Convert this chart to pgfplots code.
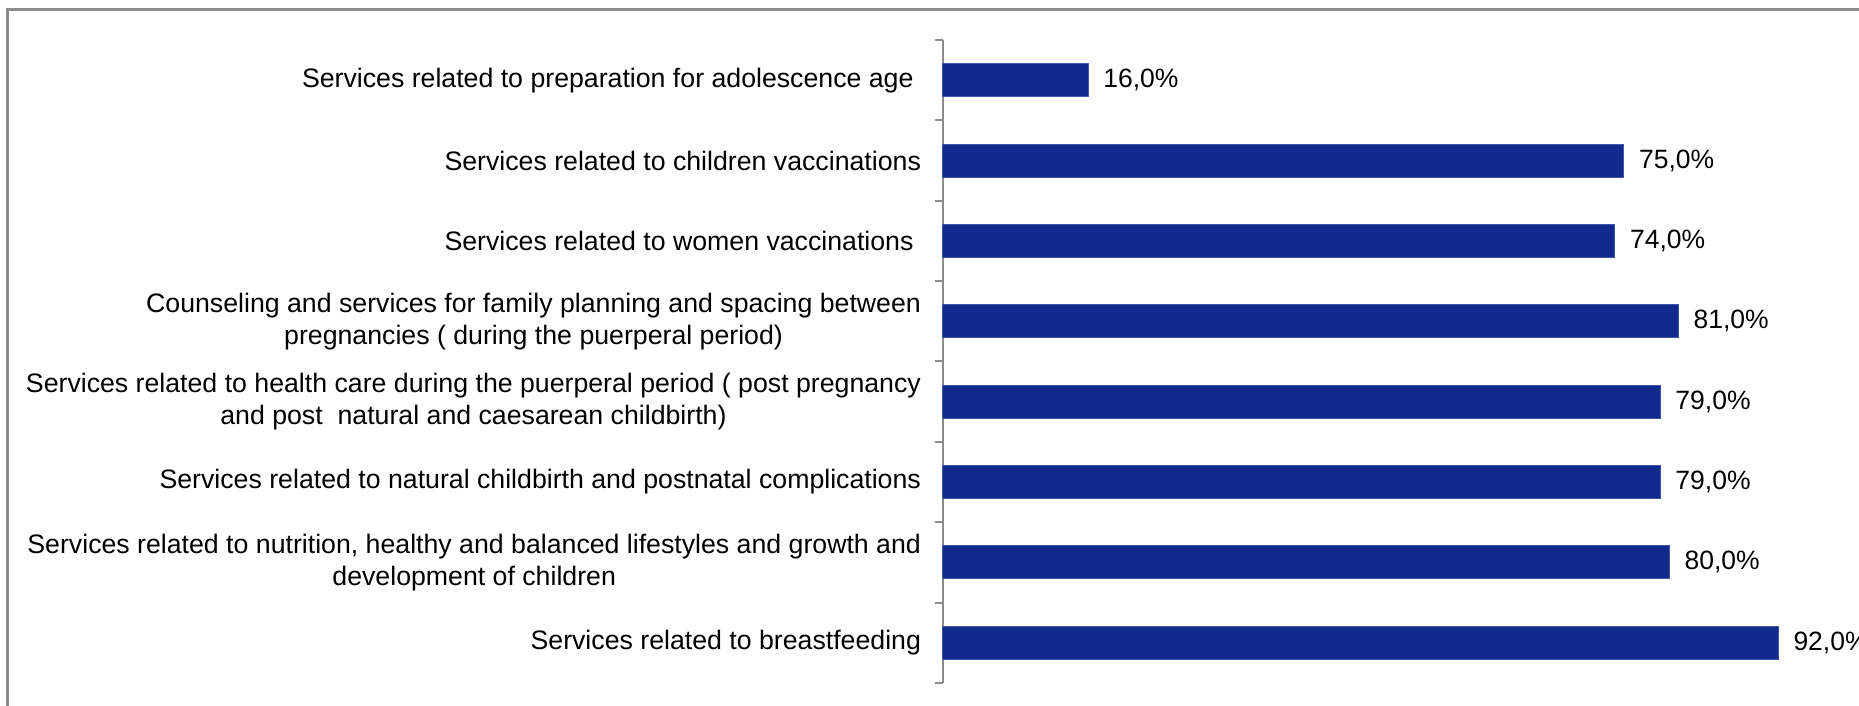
\documentclass[border=0pt]{standalone}
\usepackage{pgfplots}
\pgfplotsset{compat=1.18}
\usepackage{fontspec}
\setmainfont{Liberation Sans}
\definecolor{barblue}{RGB}{16,43,140}
\definecolor{baredge}{RGB}{60,85,170}
\definecolor{axgray}{RGB}{140,140,140}
\begin{document}
\begin{tikzpicture}
\begin{axis}[
  scale only axis,
  width=454bp, height=321.5bp,
  xbar, bar width=16.5bp,
  xmin=0, xmax=100,
  ymin=-0.5, ymax=7.5,
  axis x line=none,
  axis y line*=left,
  y axis line style={axgray, line width=1bp, -},
  ytick={0,...,7},
  major tick length=0pt,
  minor ytick={-0.5,0.5,...,7.5},
  minor tick length=4bp,
  tick align=outside,
  minor tick style={axgray, line width=1bp},
  yticklabels={
    {Services related to breastfeeding},
    {Services related to nutrition, healthy and balanced lifestyles and growth and\\development of children},
    {Services related to natural childbirth and postnatal complications},
    {Services related to health care during the puerperal period ( post pregnancy\\and post\ \ natural and caesarean childbirth)},
    {Counseling and services for family planning and spacing between~\\pregnancies ( during the puerperal period)},
    {Services related to women vaccinations~},
    {Services related to children vaccinations},
    {Services related to preparation for adolescence age~}
  },
  yticklabel style={align=center, font=\fontsize{13.4}{16}\selectfont, xshift=-7.5bp},
  /pgf/number format/assume math mode=true,
  nodes near coords={\pgfmathprintnumber[fixed,fixed zerofill,precision=1,use comma]{\pgfplotspointmeta}\%},
  nodes near coords style={font=\fontsize{13.3}{16}\selectfont, anchor=west, xshift=4bp, text=black},
  clip=false,
]
\addplot[fill=barblue, draw=baredge, line width=0.5bp] coordinates {
  (92,0) (80,1) (79,2) (79,3) (81,4) (74,5) (75,6) (16,7)
};
\end{axis}
\draw[axgray, line width=1.5bp] (-467.5bp,-30bp) -- (-467.5bp,336.5bp) -- (480bp,336.5bp);
\pgfresetboundingbox
\path[use as bounding box] (-471.5bp,-11.5bp) rectangle (458bp,341.5bp);
\end{tikzpicture}
\end{document}
